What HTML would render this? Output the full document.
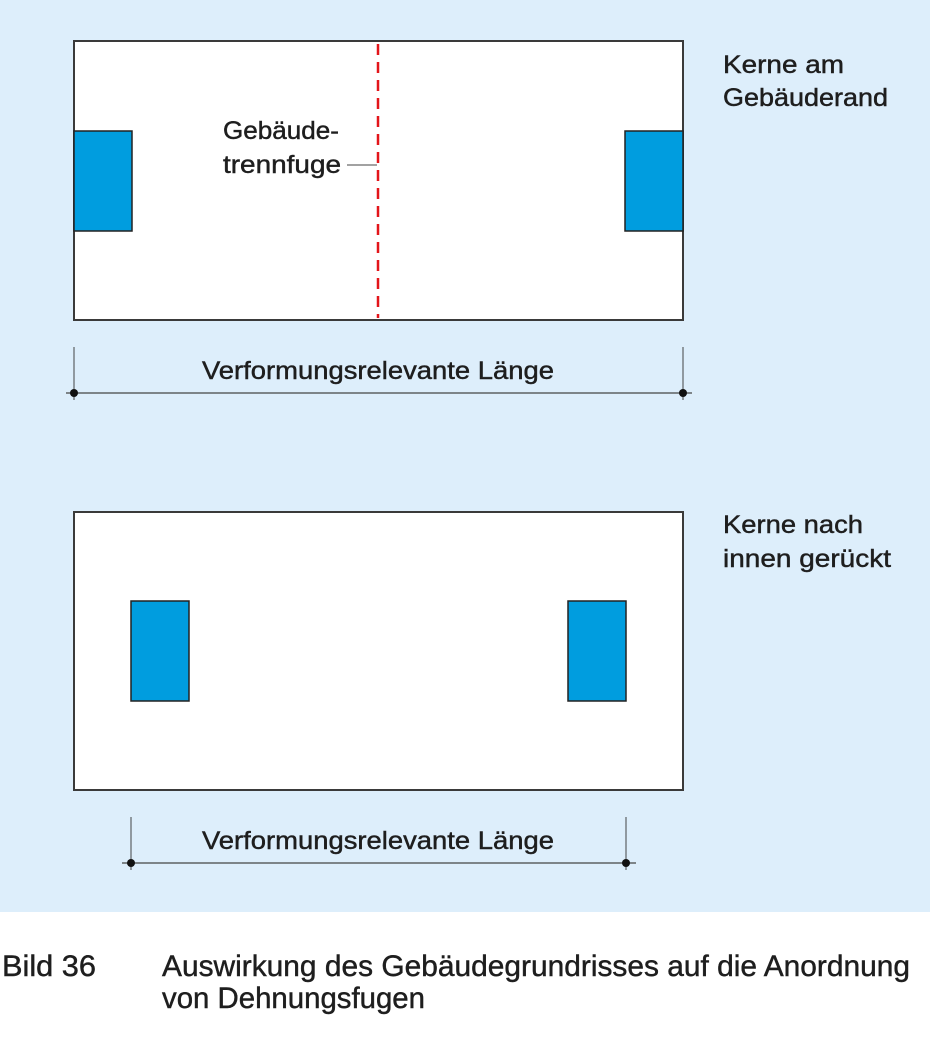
<!DOCTYPE html>
<html><head><meta charset="utf-8"><style>
html,body{margin:0;padding:0;background:#fff;}
svg{display:block;}
text{font-family:"Liberation Sans",sans-serif;fill:#1e1e1e;stroke:#1e1e1e;stroke-width:0.45;}
</style></head><body>
<svg width="930" height="1045" viewBox="0 0 930 1045" xmlns="http://www.w3.org/2000/svg">
<rect x="0" y="0" width="930" height="912" fill="#ddeefb"/>
<rect x="74" y="41" width="609" height="279" fill="#fff" stroke="#3a3a3a" stroke-width="2"/>
<rect x="74" y="131" width="58" height="100" fill="#009ddf" stroke="#222" stroke-width="1.5"/>
<rect x="625" y="131" width="58" height="100" fill="#009ddf" stroke="#222" stroke-width="1.5"/>
<line x1="378" y1="44" x2="378" y2="318" stroke="#e3151a" stroke-width="2.5" stroke-dasharray="11,7"/>
<line x1="347" y1="165" x2="377" y2="165" stroke="#444" stroke-width="1"/>
<text x="223" y="139" font-size="25" textLength="116" lengthAdjust="spacingAndGlyphs">Gebäude-</text>
<text x="223" y="173" font-size="25" textLength="118" lengthAdjust="spacingAndGlyphs">trennfuge</text>
<line x1="74" y1="347" x2="74" y2="400" stroke="#444" stroke-width="1"/>
<line x1="683" y1="347" x2="683" y2="400" stroke="#444" stroke-width="1"/>
<line x1="66" y1="393" x2="692" y2="393" stroke="#444" stroke-width="1.2"/>
<circle cx="74" cy="393" r="4" fill="#111"/><circle cx="683" cy="393" r="4" fill="#111"/>
<text x="202" y="379" font-size="25" textLength="352" lengthAdjust="spacingAndGlyphs">Verformungsrelevante Länge</text>
<text x="723" y="73" font-size="25" textLength="121" lengthAdjust="spacingAndGlyphs">Kerne am</text>
<text x="723" y="106" font-size="25" textLength="165" lengthAdjust="spacingAndGlyphs">Gebäuderand</text>
<rect x="74" y="512" width="609" height="278" fill="#fff" stroke="#3a3a3a" stroke-width="2"/>
<rect x="131" y="601" width="58" height="100" fill="#009ddf" stroke="#222" stroke-width="1.5"/>
<rect x="568" y="601" width="58" height="100" fill="#009ddf" stroke="#222" stroke-width="1.5"/>
<line x1="131" y1="817" x2="131" y2="870" stroke="#444" stroke-width="1"/>
<line x1="626" y1="817" x2="626" y2="870" stroke="#444" stroke-width="1"/>
<line x1="122" y1="863" x2="636" y2="863" stroke="#444" stroke-width="1.2"/>
<circle cx="131" cy="863" r="4" fill="#111"/><circle cx="626" cy="863" r="4" fill="#111"/>
<text x="202" y="849" font-size="25" textLength="352" lengthAdjust="spacingAndGlyphs">Verformungsrelevante Länge</text>
<text x="723" y="533" font-size="25" textLength="140" lengthAdjust="spacingAndGlyphs">Kerne nach</text>
<text x="723" y="567" font-size="25" textLength="168" lengthAdjust="spacingAndGlyphs">innen gerückt</text>
<text x="2" y="976" font-size="30" textLength="94" lengthAdjust="spacingAndGlyphs">Bild 36</text>
<text x="162" y="976" font-size="30" textLength="748" lengthAdjust="spacingAndGlyphs">Auswirkung des Gebäudegrundrisses auf die Anordnung</text>
<text x="162" y="1008" font-size="30" textLength="263" lengthAdjust="spacingAndGlyphs">von Dehnungsfugen</text>
</svg>
</body></html>
